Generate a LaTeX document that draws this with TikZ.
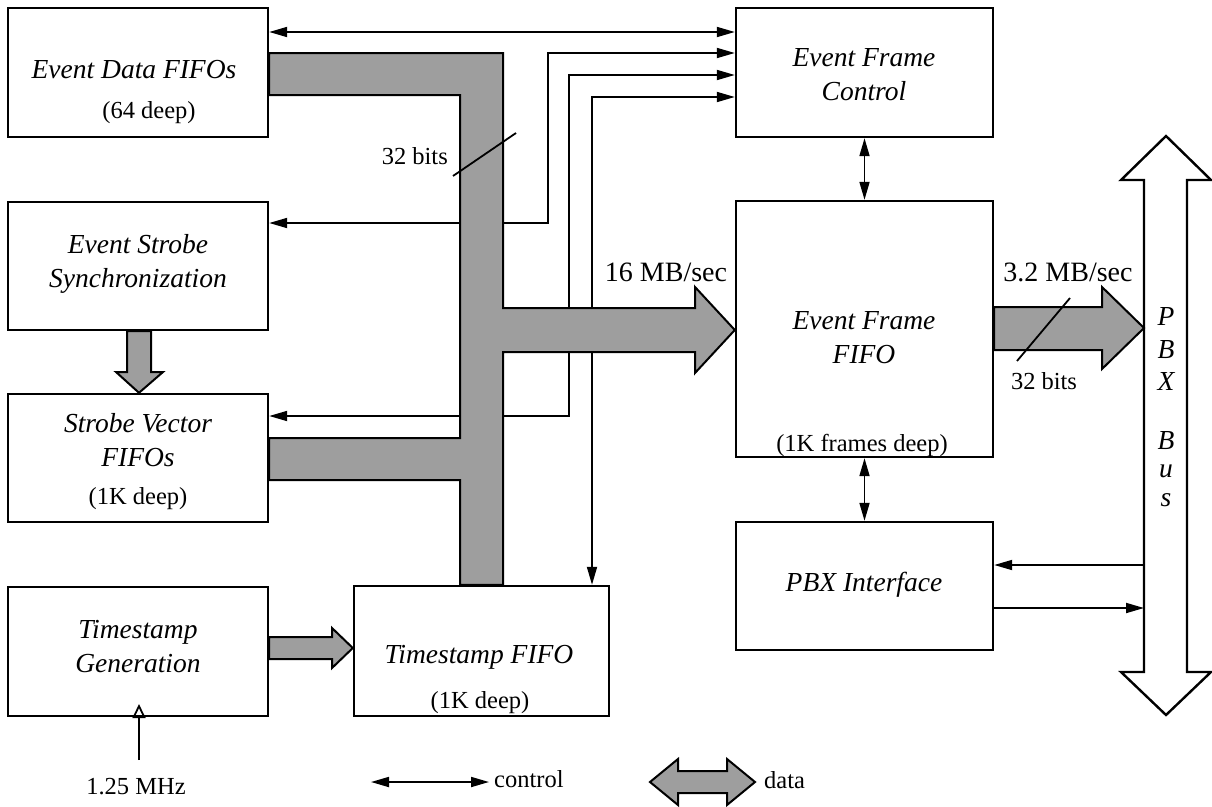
\documentclass[tikz,border=0pt]{standalone}
\usepackage{fontspec}
\setmainfont{Liberation Serif}
\usetikzlibrary{arrows.meta,calc}
\begin{document}
\begin{tikzpicture}[x=1pt,y=-1pt]
\tikzset{
 blk/.style={draw, line width=2.4pt, inner sep=0pt, fill=white},
 lab/.style={font=\fontsize{27.5}{34}\selectfont\itshape, align=center, inner sep=0pt},
 sml/.style={font=\fontsize{24.5}{26}\selectfont, inner sep=0pt},
 rate/.style={font=\fontsize{28}{30}\selectfont, inner sep=0pt},
 ctl/.style={line width=1.8pt, -{Triangle[length=18pt,width=10pt]}},
 ctlb/.style={line width=1.8pt, {Triangle[length=18pt,width=10pt]}-{Triangle[length=18pt,width=10pt]}},
 fat/.style={draw, line width=2pt, fill=black!38, line join=miter},
 hollow/.style={draw, line width=2.4pt, fill=white, line join=miter},
}
\fill[white] (0,0) rectangle (1212,806);
\useasboundingbox (0,0) rectangle (1212,806);

% boxes
\node[blk, minimum width=260pt, minimum height=129pt] (edf) at (138,72.5) {};
\node[blk, minimum width=260pt, minimum height=128pt] (ess) at (138,266) {};
\node[blk, minimum width=260pt, minimum height=128pt] (svf) at (138,458) {};
\node[blk, minimum width=260pt, minimum height=129pt] (tsg) at (138,651.5) {};
\node[blk, minimum width=255pt, minimum height=130pt] (tsf) at (481.5,651) {};
\node[blk, minimum width=257pt, minimum height=129pt] (efc) at (864.5,72.5) {};
\node[blk, minimum width=257pt, minimum height=256pt] (eff) at (864.5,329) {};
\node[blk, minimum width=257pt, minimum height=128pt] (pbi) at (864.5,586) {};

% box texts
\node[lab] (edft) at (134,70) {Event Data FIFOs};
\node[sml] (edfs) at (149,113) {(64 deep)};
\node[lab] (esst) at (138,264) {Event Strobe\\Synchronization};
\node[lab] (svft) at (138,440) {Strobe Vector\\FIFOs};
\node[sml] (svfs) at (138,499) {(1K deep)};
\node[lab] (tsgt) at (138,647) {Timestamp\\Generation};
\node[lab] (tsft) at (479,657) {Timestamp FIFO};
\node[sml] (tsfs) at (480,703) {(1K deep)};
\node[lab] (efct) at (864,75) {Event Frame\\Control};
\node[lab] (efft) at (864,338) {Event Frame\\FIFO};
\node[sml] (effs) at (862,445) {(1K frames deep)};
\node[lab] (pbit) at (864,585) {PBX Interface};

% control lines
\draw[ctlb] (edf.east |- 0,32) -- (efc.west |- 0,32);
\draw[ctlb] (ess.east |- 0,223) -- (548,223) -- (548,53) -- (efc.west |- 0,53);
\draw[ctlb] (svf.east |- 0,416) -- (569,416) -- (569,75) -- (efc.west |- 0,75);
\draw[ctlb] (tsf.north -| 592,0) -- (592,97) -- (efc.west |- 0,97);
\draw[ctlb] (efc.south) -- (eff.north);
\draw[ctlb] (eff.south) -- (pbi.north);

% data bus
\draw[fat] (edf.east |- 0,53) -- (503,53) -- (503,308) -- (695,308) -- (695,287)
  -- (eff.west |- 0,330) -- (695,373) -- (695,352) -- (503,352)
  -- (tsf.north -| 503,0) -- (tsf.north -| 460,0) -- (460,480)
  -- (svf.east |- 0,480) -- (svf.east |- 0,438) -- (460,438) -- (460,95)
  -- (edf.east |- 0,95) -- cycle;
\draw[line width=1.8pt] (453,176) -- (516,133);
\node[sml, anchor=east] (b32a) at (448,156) {32 bits};
\node[rate] (r16) at (666,272) {16 MB/sec};

% PBX bus
\coordinate (busL) at (1144,0);
\draw[hollow] (1166,136) -- (1211,180) -- (1187,180) -- (1187,672) -- (1211,672)
  -- (1166,715) -- (1121,672) -- (1144,672) -- (1144,180) -- (1121,180) -- cycle;
\node[lab] (bp) at (1166,316) {P};
\node[lab] (bb) at (1166,350) {B};
\node[lab] (bx) at (1166,381) {X};
\node[lab] (bb2) at (1166,441) {B};
\node[lab] (bu) at (1166,471) {u};
\node[lab] (bs) at (1166,500) {s};
\draw[ctl] (busL |- 0,565) -- (pbi.east |- 0,565);
\draw[ctl] (pbi.east |- 0,608) -- (busL |- 0,608);

% 3.2 MB/sec arrow
\draw[fat] (eff.east |- 0,307) -- (1102,307) -- (1102,287) -- (busL |- 0,328)
  -- (1102,369) -- (1102,350) -- (eff.east |- 0,350) -- cycle;
\node[rate] (r32) at (1068,272) {3.2 MB/sec};
\draw[line width=1.8pt] (1070,298) -- (1017,361);
\node[sml] (b32b) at (1044,381) {32 bits};

% strobe arrow
\draw[fat] (ess.south -| 127,0) -- (127,372) -- (116,372) -- (svf.north -| 139,0)
  -- (163,372) -- (151,372) -- (ess.south -| 151,0) -- cycle;
% timestamp arrow
\draw[fat] (tsg.east |- 0,637) -- (332,637) -- (332,628) -- (tsf.west |- 0,648)
  -- (332,668) -- (332,659) -- (tsg.east |- 0,659) -- cycle;

% clock input
\node[sml] (mhz) at (136,787) {1.25 MHz};
\coordinate (mhzin) at (139,760);
\draw[line width=1.8pt, -{Triangle[open,length=14pt,width=13pt]}] (mhzin) -- (139,704);

% legend
\coordinate (lc1) at (371,782);
\coordinate (lc2) at (489,782);
\draw[ctlb] (lc1) -- (lc2);
\node[sml, anchor=west] (lctl) at (494,779) {control};
\draw[fat] (650,782) -- (678,759) -- (678,771) -- (727,771) -- (727,759) -- (755,782)
  -- (727,805) -- (727,793) -- (678,793) -- (678,805) -- cycle;
\node[sml, anchor=west] (ldat) at (764,780) {data};
\end{tikzpicture}
\end{document}
